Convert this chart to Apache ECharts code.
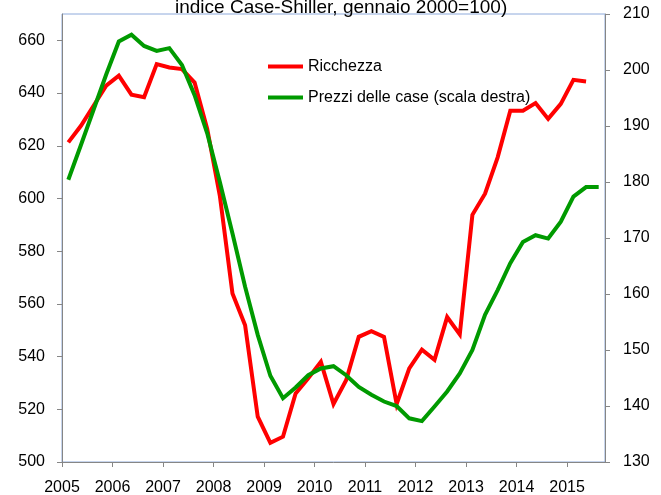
<!DOCTYPE html>
<html>
<head>
<meta charset="utf-8">
<script src="https://cdn.jsdelivr.net/npm/echarts@6/dist/echarts.min.js"></script>
<style>html,body{margin:0;padding:0;background:#fff;}#c{width:661px;height:495px;}</style>
</head>
<body>
<div id="c"></div>
<script>
const quarters = ['2005Q1','2005Q2','2005Q3','2005Q4','2006Q1','2006Q2','2006Q3','2006Q4',
  '2007Q1','2007Q2','2007Q3','2007Q4','2008Q1','2008Q2','2008Q3','2008Q4',
  '2009Q1','2009Q2','2009Q3','2009Q4','2010Q1','2010Q2','2010Q3','2010Q4',
  '2011Q1','2011Q2','2011Q3','2011Q4','2012Q1','2012Q2','2012Q3','2012Q4',
  '2013Q1','2013Q2','2013Q3','2013Q4','2014Q1','2014Q2','2014Q3','2014Q4',
  '2015Q1','2015Q2','2015Q3'];
const ricchezza = [621.3,627.6,635.2,642.8,646.6,639.4,638.4,651.0,649.7,649.1,644.0,626.4,
  601.0,563.9,551.9,517.2,507.3,509.6,526.0,531.8,538.0,522.0,531.0,547.5,549.6,547.5,
  522.0,535.5,542.6,538.8,555.0,548.4,593.8,601.8,615.6,633.3,633.3,636.2,630.2,635.9,
  645.0,644.4];
const prezziCase = [180.4,186.6,192.9,199.2,205.1,206.3,204.3,203.4,203.9,200.9,195.5,188.7,
  180.0,170.8,161.3,152.7,145.4,141.4,143.3,145.5,146.7,147.1,145.5,143.4,142.0,140.8,
  140.0,137.8,137.3,139.9,142.6,145.8,150.0,156.3,160.7,165.5,169.3,170.5,169.9,172.9,
  177.4,179.1,179.1];
const leftTicks = {min: 500, max: 670, step: 20};
const rightTicks = {min: 130, max: 210, step: 10};
const yearTicks = {min: 2005, max: 2015.75, step: 1};
const titleText = 'indice Case-Shiller, gennaio 2000=100)';
const names = ['Ricchezza', 'Prezzi delle case (scala destra)'];

// quarter -> its mid-point in decimal years
function quarterMid(q) {
  const y = parseInt(q.slice(0, 4), 10);
  const n = parseInt(q.slice(5), 10);
  return y + (n - 1) * 0.25 + 0.125;
}
const toPairs = vals => vals.map((v, i) => [quarterMid(quarters[i]), v]);

const FONT = 'Liberation Sans, Arial, sans-serif';
const axisGray = '#868686';
const chart = echarts.init(document.getElementById('c'));
chart.setOption({
  animation: false,
  backgroundColor: '#fff',
  textStyle: {fontFamily: FONT},
  title: {
    text: titleText, left: 170, top: -7,
    textStyle: {fontSize: 19, fontWeight: 'normal', color: '#000', fontFamily: FONT}
  },
  grid: {left: 62, right: 56, top: 14, bottom: 33, outerBoundsMode: 'none', containLabel: false,
    show: true, borderColor: '#8eaadb', borderWidth: 1, backgroundColor: 'transparent'},
  legend: {
    data: names, orient: 'vertical', left: 268, top: 58, padding: 0,
    itemWidth: 35, itemHeight: 4, itemGap: 14, icon: 'rect',
    textStyle: {fontSize: 16, color: '#000', lineHeight: 17, fontFamily: FONT}
  },
  xAxis: {
    type: 'value', min: yearTicks.min, max: yearTicks.max, interval: yearTicks.step,
    axisLine: {show: true, lineStyle: {color: axisGray, width: 1}},
    axisTick: {show: true, inside: false, length: 5, lineStyle: {color: axisGray}},
    splitLine: {show: false},
    axisLabel: {
      color: '#000', fontSize: 16, margin: 18, showMaxLabel: false, fontFamily: FONT,
      formatter: v => (Math.abs(v - Math.round(v)) < 1e-6 ? String(Math.round(v)) : '')
    }
  },
  yAxis: [
    {
      type: 'value', position: 'left', min: leftTicks.min, max: leftTicks.max, interval: leftTicks.step,
      axisLine: {show: true, lineStyle: {color: axisGray, width: 1}},
      axisTick: {show: true, length: 5, lineStyle: {color: axisGray}},
      splitLine: {show: false},
      axisLabel: {color: '#000', fontSize: 16, margin: 17, showMaxLabel: false, fontFamily: FONT}
    },
    {
      type: 'value', position: 'right', min: rightTicks.min, max: rightTicks.max, interval: rightTicks.step,
      axisLine: {show: true, lineStyle: {color: axisGray, width: 1}},
      axisTick: {show: true, length: 5, lineStyle: {color: axisGray}},
      splitLine: {show: false},
      axisLabel: {color: '#000', fontSize: 16, margin: 18, fontFamily: FONT}
    }
  ],
  series: [
    {
      name: names[0], type: 'line', yAxisIndex: 0, data: toPairs(ricchezza),
      showSymbol: false, symbol: 'none', color: '#ff0000',
      lineStyle: {color: '#ff0000', width: 4, join: 'miter'}
    },
    {
      name: names[1], type: 'line', yAxisIndex: 1, data: toPairs(prezziCase),
      showSymbol: false, symbol: 'none', color: '#009a00',
      lineStyle: {color: '#009a00', width: 4, join: 'miter'}
    }
  ]
});
</script>
</body>
</html>
